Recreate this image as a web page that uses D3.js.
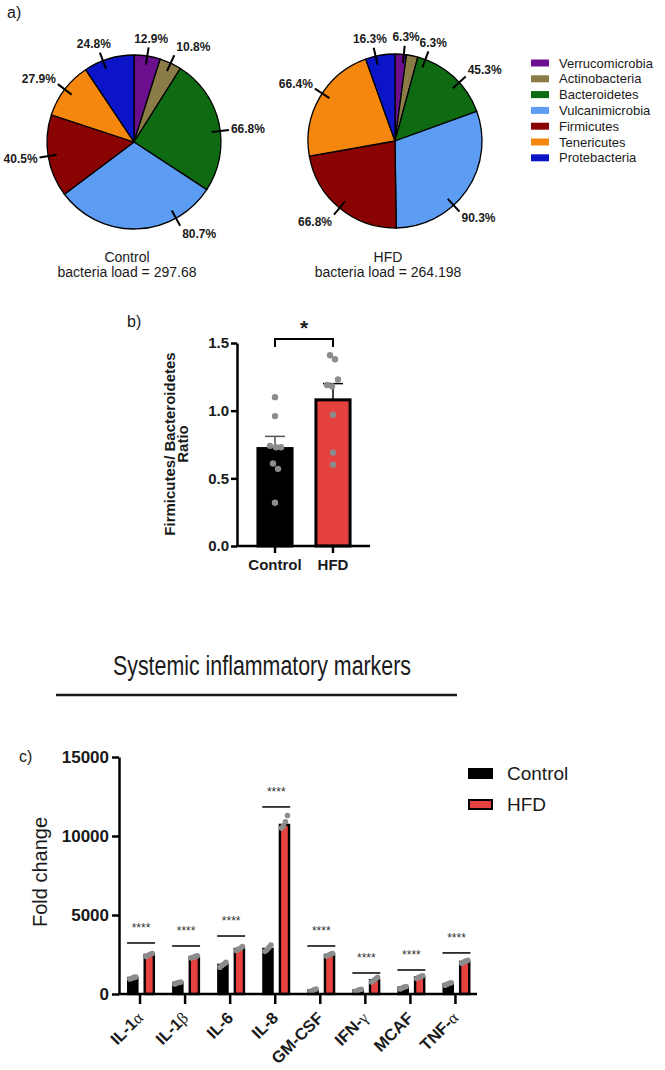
<!DOCTYPE html>
<html>
<head>
<meta charset="utf-8">
<script src="https://cdn.jsdelivr.net/npm/d3@7"></script>
<style>
  body { margin: 0; background: #fff; }
  svg { display: block; font-family: Arial, "Liberation Sans", sans-serif; }
</style>
</head>
<body>
<svg id="fig" width="665" height="1070"></svg>
<script>
// ---------- data ----------
const phyla = ['Verrucomicrobia', 'Actinobacteria', 'Bacteroidetes', 'Vulcanimicrobia', 'Firmicutes', 'Tenericutes', 'Protebacteria'];
const phylaColors = ['#6b0f8f', '#8b7b47', '#0e6b12', '#5c9cf2', '#8a0303', '#f5870f', '#0b14c6'];
const pieGroups = ['Control', 'HFD'];
const controlPct = [12.9, 10.8, 66.8, 80.7, 40.5, 27.9, 24.8];
const hfdPct = [6.3, 6.3, 45.3, 90.3, 66.8, 66.4, 16.3];
const bacteriaLoad = ['297.68', '264.198'];

const ratioGroups = ['Control', 'HFD'];
const ratioMean = [0.72, 1.08];
const ratioSem = [0.09, 0.12];
const ratioControl = [1.10, 0.96, 0.74, 0.73, 0.73, 0.61, 0.57, 0.32];
const ratioHFD = [1.41, 1.38, 1.23, 1.19, 1.18, 0.97, 0.69, 0.60];
const ratioTicks = [0, 0.5, 1.0, 1.5];

const markers = ['IL-1α', 'IL-1β', 'IL-6', 'IL-8', 'GM-CSF', 'IFN-γ', 'MCAF', 'TNF-α'];
const markerControl = [1010, 700, 1840, 2850, 220, 230, 400, 630];
const markerHFD = [2470, 2340, 2850, 10700, 2470, 870, 1060, 2030];
const markerControlPts = [
  [950, 1000, 1050, 1080], [640, 690, 730, 760], [1700, 1800, 1900, 2000], [2700, 2800, 2950, 3100],
  [120, 200, 260, 310], [150, 210, 270, 300], [320, 380, 440, 470], [560, 620, 680, 710]
];
const markerHFDPts = [
  [2380, 2450, 2520, 2560], [2280, 2330, 2380, 2420], [2750, 2830, 2900, 3000], [10500, 10650, 10900, 11300],
  [2400, 2450, 2520, 2560], [760, 850, 950, 1060], [980, 1050, 1100, 1150], [1950, 2020, 2080, 2130]
];
const markerSig = [3230, 3040, 3670, 11840, 3040, 1330, 1520, 2600];
const foldTicks = [0, 5000, 10000, 15000];

// ---------- layout ----------
const svg = d3.select('#fig');
const INK = '#1a1a1a';
const RED = '#e4413f';
const DOT = '#8c8c8c';

// label nudges (degrees) so labels don't collide, like the original
const labelShift = [[0, 0, 5, -27, 0, 0, -4], [2, 9, 5, 13, 0, 3, -3]];

// ---------- panel a: pies ----------
svg.append('text').attr('x', 7).attr('y', 18).attr('font-size', 16).attr('fill', INK).text('a)');

const pieCenters = [[134, 142], [395, 141]];
const R = 87;
const pie = d3.pie().sort(null).value(d => d);
const arc = d3.arc().innerRadius(0).outerRadius(R);

[controlPct, hfdPct].forEach((vals, gi) => {
  const [cx, cy] = pieCenters[gi];
  const g = svg.append('g').attr('transform', `translate(${cx},${cy})`);
  const slices = pie(vals);

  g.selectAll('path')
    .data(slices)
    .enter()
    .append('path')
    .attr('d', arc)
    .attr('fill', (d, i) => phylaColors[i])
    .attr('stroke', '#000')
    .attr('stroke-width', 1.3)
    .attr('stroke-linejoin', 'round');

  slices.forEach((d, i) => {
    const a = (d.startAngle + d.endAngle) / 2 + labelShift[gi][i] * Math.PI / 180;
    const s = Math.sin(a), c = -Math.cos(a);
    const ex = s * R * 1.1, ey = c * R * 1.1;
    g.append('line')
      .attr('x1', s * R * 0.9).attr('y1', c * R * 0.9)
      .attr('x2', ex).attr('y2', ey)
      .attr('stroke', '#000').attr('stroke-width', 2);
    const t = g.append('text')
      .attr('font-size', 12).attr('font-weight', 'bold').attr('fill', INK)
      .text(vals[i] + '%');
    const w = t.node().getComputedTextLength();
    if (s > 0.4) {
      t.attr('text-anchor', 'start').attr('x', ex + 2);
    } else if (s < -0.4) {
      t.attr('text-anchor', 'end').attr('x', ex - 2);
    } else {
      t.attr('text-anchor', 'middle').attr('x', ex + s * w / 2);
    }
    t.attr('y', ey + c * 9 + 4);
  });

  svg.append('text').attr('x', cx - 7).attr('y', 262)
    .attr('text-anchor', 'middle').attr('font-size', 14).attr('fill', INK)
    .text(pieGroups[gi]);
  svg.append('text').attr('x', cx - 7).attr('y', 277)
    .attr('text-anchor', 'middle').attr('font-size', 14).attr('fill', INK)
    .text('bacteria load = ' + bacteriaLoad[gi]);
});

// legend
const leg = svg.append('g').attr('transform', 'translate(531,63)');
phyla.forEach((p, i) => {
  leg.append('rect').attr('x', 0).attr('y', i * 15.8 - 3.5).attr('width', 18).attr('height', 7)
    .attr('fill', phylaColors[i]);
  leg.append('text').attr('x', 28).attr('y', i * 15.8 + 4.5)
    .attr('font-size', 13).attr('fill', INK).text(p);
});

// ---------- panel b: F/B ratio ----------
svg.append('text').attr('x', 127).attr('y', 327).attr('font-size', 16).attr('fill', INK).text('b)');

const yb = d3.scaleLinear().domain([0, 1.5]).range([546, 343]);
const xb = d3.scaleBand().domain(ratioGroups).range([246, 362]).paddingInner(0.36).paddingOuter(0.18);
const gb = svg.append('g');

gb.selectAll('rect.bar')
  .data(ratioGroups)
  .enter()
  .append('rect')
  .attr('class', 'bar')
  .attr('x', d => xb(d) + 1.5)
  .attr('width', xb.bandwidth() - 3)
  .attr('y', (d, i) => yb(ratioMean[i]))
  .attr('height', (d, i) => yb(0) - yb(ratioMean[i]))
  .attr('fill', (d, i) => i === 0 ? '#000' : RED)
  .attr('stroke', '#000')
  .attr('stroke-width', 3);

// error bars
ratioGroups.forEach((d, i) => {
  const cx = xb(d) + xb.bandwidth() / 2;
  const col = i === 0 ? '#555' : '#000';
  gb.append('line').attr('x1', cx).attr('x2', cx)
    .attr('y1', yb(ratioMean[i])).attr('y2', yb(ratioMean[i] + ratioSem[i]))
    .attr('stroke', col).attr('stroke-width', 1.5);
  gb.append('line').attr('x1', cx - 10).attr('x2', cx + 10)
    .attr('y1', yb(ratioMean[i] + ratioSem[i])).attr('y2', yb(ratioMean[i] + ratioSem[i]))
    .attr('stroke', col).attr('stroke-width', 1.5);
});

// points
const jitterC = [0, 0, -5, 1, 6, -2, 3, 0];
const jitterH = [-3, 2, 5, -6, -1, 0, 0, 0];
[ratioControl, ratioHFD].forEach((pts, gi) => {
  const cx = xb(ratioGroups[gi]) + xb.bandwidth() / 2;
  const jit = gi === 0 ? jitterC : jitterH;
  gb.selectAll(null)
    .data(pts)
    .enter()
    .append('circle')
    .attr('cx', (d, i) => cx + jit[i])
    .attr('cy', d => yb(d))
    .attr('r', 3.2)
    .attr('fill', DOT);
});

// axes
const yAxisB = gb.append('g').attr('transform', 'translate(237,0)')
  .call(d3.axisLeft(yb).tickValues(ratioTicks).tickFormat(d3.format('.1f')).tickSize(6).tickPadding(2).tickSizeOuter(0));
yAxisB.selectAll('text').attr('font-size', 15).attr('font-weight', 'bold').attr('fill', INK).attr('font-family', null);
yAxisB.selectAll('line, path').attr('stroke', '#000').attr('stroke-width', 2.5);

const xAxisB = gb.append('g').attr('transform', 'translate(0,546)')
  .call(d3.axisBottom(xb).tickSize(7).tickPadding(6).tickSizeOuter(0));
xAxisB.select('.domain').remove();
xAxisB.selectAll('line').attr('stroke', '#000').attr('stroke-width', 2.5);
xAxisB.selectAll('text').attr('font-size', 15).attr('font-weight', 'bold').attr('fill', INK).attr('font-family', null);
gb.append('line').attr('x1', 236).attr('x2', 370).attr('y1', 546).attr('y2', 546)
  .attr('stroke', '#000').attr('stroke-width', 2.5);

// axis title
const tb = gb.append('text').attr('transform', 'translate(175,444) rotate(-90)')
  .attr('text-anchor', 'middle').attr('font-size', 15).attr('font-weight', 'bold').attr('fill', INK);
tb.append('tspan').attr('x', 0).attr('y', 0).text('Firmicutes/ Bacteroidetes');
tb.append('tspan').attr('x', 0).attr('y', 13).text('Ratio');

// significance bracket
const bx1 = xb('Control') + xb.bandwidth() / 2, bx2 = xb('HFD') + xb.bandwidth() / 2;
gb.append('path')
  .attr('d', `M${bx1},347V339H${bx2}V347`)
  .attr('fill', 'none').attr('stroke', '#000').attr('stroke-width', 2);
gb.append('text').attr('x', (bx1 + bx2) / 2).attr('y', 335)
  .attr('text-anchor', 'middle').attr('font-size', 21).attr('font-weight', 'bold').attr('fill', INK).text('*');

// ---------- panel c: inflammatory markers ----------
svg.append('text').attr('x', 262).attr('y', 675).attr('text-anchor', 'middle')
  .attr('font-size', 27).attr('textLength', 298).attr('lengthAdjust', 'spacingAndGlyphs')
  .attr('fill', INK).text('Systemic inflammatory markers');
svg.append('line').attr('x1', 56).attr('x2', 457).attr('y1', 695).attr('y2', 695)
  .attr('stroke', INK).attr('stroke-width', 2.5);

svg.append('text').attr('x', 19).attr('y', 762).attr('font-size', 16).attr('fill', INK).text('c)');

const yc = d3.scaleLinear().domain([0, 15000]).range([994, 757]);
const xc = d3.scaleBand().domain(markers).range([117.5, 478]);
const xg = d3.scaleBand().domain(['Control', 'HFD']).range([-13, 15]).paddingInner(0.3);
const gc = svg.append('g');

markers.forEach((m, i) => {
  const base = xc(m) + xc.bandwidth() / 2;
  const groups = [
    { key: 'Control', v: markerControl[i], pts: markerControlPts[i], fill: '#000' },
    { key: 'HFD', v: markerHFD[i], pts: markerHFDPts[i], fill: RED }
  ];
  groups.forEach(gr => {
    const x0 = base + xg(gr.key);
    gc.append('rect')
      .attr('x', x0 + 1.2).attr('width', xg.bandwidth() - 2.4)
      .attr('y', yc(gr.v)).attr('height', yc(0) - yc(gr.v))
      .attr('fill', gr.fill).attr('stroke', '#000').attr('stroke-width', 2.4);
    gc.selectAll(null)
      .data(gr.pts)
      .enter()
      .append('circle')
      .attr('cx', (d, j) => x0 + xg.bandwidth() / 2 + (j - 1.5) * 2)
      .attr('cy', d => yc(d))
      .attr('r', 2.8)
      .attr('fill', DOT);
  });
  const sx1 = base + xg('Control'), sx2 = base + xg('HFD') + xg.bandwidth();
  gc.append('line').attr('x1', sx1).attr('x2', sx2)
    .attr('y1', yc(markerSig[i])).attr('y2', yc(markerSig[i]))
    .attr('stroke', '#000').attr('stroke-width', 1.5);
  gc.append('text').attr('x', (sx1 + sx2) / 2).attr('y', yc(markerSig[i]) - 11)
    .attr('text-anchor', 'middle').attr('font-size', 12).attr('fill', '#333').text('****');
});

const yAxisC = gc.append('g').attr('transform', 'translate(119,0)')
  .call(d3.axisLeft(yc).tickValues(foldTicks).tickFormat(d3.format('d')).tickSize(7).tickPadding(3).tickSizeOuter(0));
yAxisC.selectAll('text').attr('font-size', 17).attr('font-weight', 'bold').attr('fill', INK).attr('font-family', null);
yAxisC.selectAll('line, path').attr('stroke', '#000').attr('stroke-width', 2.5);

// x axis: ticks from d3, labels drawn ourselves (rotated, greek in a serif face)
const xAxisC = gc.append('g').attr('transform', 'translate(0,994)')
  .call(d3.axisBottom(xc).tickSize(10).tickSizeOuter(0).tickFormat(''));
xAxisC.select('.domain').remove();
xAxisC.selectAll('line').attr('stroke', '#000').attr('stroke-width', 2.5);
gc.append('line').attr('x1', 118).attr('x2', 477).attr('y1', 994).attr('y2', 994)
  .attr('stroke', '#000').attr('stroke-width', 2.5);

const xLabels = gc.selectAll('text.xlab')
  .data(markers)
  .enter()
  .append('text')
  .attr('class', 'xlab')
  .attr('x', 0)
  .attr('y', 0)
  .attr('transform', d => `translate(${xc(d) + xc.bandwidth() / 2 + 4},1019) rotate(-45)`)
  .attr('text-anchor', 'end')
  .attr('font-size', 16.5)
  .attr('font-weight', 'bold')
  .attr('fill', INK);
xLabels.each(function (d) {
  const m = d.match(/^(.*?)([αβγ])$/);
  const el = d3.select(this);
  if (m) {
    el.append('tspan').text(m[1]);
    el.append('tspan').attr('font-weight', 'normal')
      .attr('font-family', '"Liberation Serif", "DejaVu Serif", serif').text(m[2]);
  } else {
    el.text(d);
  }
});

gc.append('text').attr('transform', 'translate(47,872) rotate(-90)')
  .attr('text-anchor', 'middle').attr('font-size', 20).attr('fill', INK).text('Fold change');

// legend c
const legC = svg.append('g').attr('transform', 'translate(468,768)');
['Control', 'HFD'].forEach((k, i) => {
  legC.append('rect').attr('x', 1).attr('y', i * 31 + 1).attr('width', 23).attr('height', 9)
    .attr('fill', i === 0 ? '#000' : RED).attr('stroke', '#000').attr('stroke-width', 2);
  legC.append('text').attr('x', 39).attr('y', i * 31 + 12)
    .attr('font-size', 19).attr('fill', INK).text(k);
});
</script>
</body>
</html>
